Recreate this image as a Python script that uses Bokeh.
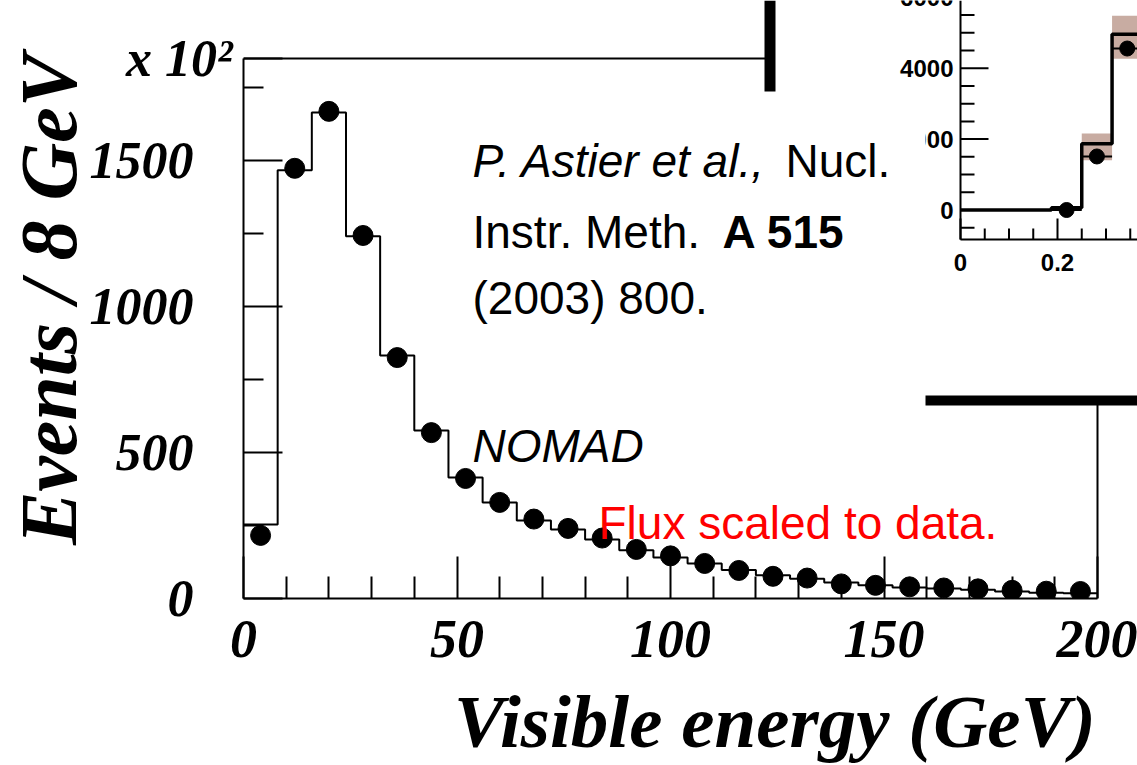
import numpy as np
from bokeh.plotting import figure
from bokeh.models import Range1d, FixedTicker, Label
from bokeh.core.properties import value
from bokeh.embed import file_html
from bokeh.resources import INLINE

# ---------------- main histogram data (visible energy, 8 GeV bins) ----------------
energy_edges = [0, 8, 16, 24, 32, 40, 48, 56, 64, 72, 80, 88, 96, 104, 112, 120,
                128, 136, 144, 152, 160, 168, 176, 184, 192, 200]
energy_centers = [4, 12, 20, 28, 36, 44, 52, 60, 68, 76, 84, 92, 100, 108, 116, 124,
                  132, 140, 148, 156, 164, 172, 180, 188, 196]
flux_mc = [253, 1466, 1664, 1240, 832, 575, 414, 329, 267, 236, 202, 165, 140, 120,
           98, 80, 68, 55, 45, 38, 34, 30, 24, 20, 18]
data_events = [216, 1473, 1668, 1243, 825, 568, 411, 329, 272, 240, 207, 168, 146,
               120, 96, 76, 70, 50, 45, 40, 36, 33, 28, 25, 24]

x_major_ticks = [0, 50, 100, 150, 200]
x_minor_ticks = [10, 20, 30, 40, 60, 70, 80, 90, 110, 120, 130, 140, 160, 170, 180, 190]
y_major_ticks = [0, 500, 1000, 1500]
y_tick_labels = ["0", "500", "1000", "1500"]
y_minor_ticks = [250, 750, 1250, 1750]
Y_TOP = 1849  # top of the original frame (events)
Y_SCALE_LABEL = "x 10\u00b2"

# ---------------- inset data ----------------
inset_edges = [0, 0.0625, 0.125, 0.1875, 0.25, 0.3125, 0.375]
inset_mc = [0, 0, 0, 60, 1870, 4960]
inset_pts_x = [0.21875, 0.28125, 0.34375]
inset_pts_y = [0, 1510, 4555]
inset_box_left = [0.25, 0.3125]
inset_box_right = [0.3125, 0.375]
inset_box_low = [1400, 4270]
inset_box_high = [2160, 5480]
inset_y_major = [0, 2000, 4000, 6000]
inset_y_labels = ["0", "2000", "4000", "6000"]
inset_y_minor = [-500, 500, 1000, 1500, 2500, 3000, 3500, 4500, 5000, 5500]
inset_x_major = [0, 0.2, 0.4]
inset_x_labels = ["0", "0.2", "0.4"]
inset_x_minor = [0.05, 0.1, 0.15, 0.25, 0.3, 0.35]
INSET_FLOOR = -832

# ---------------- geometry ----------------
W, H = 1137, 765
FRAME_LEFT = 243
FRAME_BOTTOM = 598
PX_PER_GEV = (1097 - 243) / 200.0
PX_PER_EVT = (598 - 58) / float(Y_TOP)

def gx(px):
    return (px - FRAME_LEFT) / PX_PER_GEV

def gy(py):
    return (FRAME_BOTTOM - py) / PX_PER_EVT

xr = Range1d(0, gx(W))
yr = Range1d(0, gy(0))

p = figure(width=W, height=H, x_range=xr, y_range=yr, output_backend="svg",
           toolbar_location=None, min_border_left=FRAME_LEFT, min_border_right=0,
           min_border_top=0, min_border_bottom=H - FRAME_BOTTOM)
p.outline_line_color = None
p.xgrid.grid_line_color = None
p.ygrid.grid_line_color = None
p.background_fill_color = "white"
p.border_fill_color = "white"

# inset ranges
I_X0, I_SX = 960.0, 485.0
I_Y0, I_SY = 209.5, 0.03545
p.extra_x_ranges = {"ix": Range1d((FRAME_LEFT - I_X0) / I_SX, (W - I_X0) / I_SX)}
p.extra_y_ranges = {"iy": Range1d(-(FRAME_BOTTOM - I_Y0) / I_SY, I_Y0 / I_SY)}

SERIF = "Liberation Serif"
SANS = "Liberation Sans"
NB = "\u00a0"

xa = p.xaxis[0]
xa.ticker = FixedTicker(ticks=x_major_ticks, minor_ticks=x_minor_ticks)
xa.bounds = (0, 200)
# leading non-breaking spaces push the centred title to end at x = 200
xa.axis_label = NB * 9 + "Visible energy (GeV)"
ya = p.yaxis[0]
ya.ticker = FixedTicker(ticks=y_major_ticks + [Y_TOP], minor_ticks=y_minor_ticks)
ya.bounds = (0, Y_TOP)
ya.axis_label = "Events / 8 GeV"
overrides = {t: lbl + NB * 3 for t, lbl in zip(y_major_ticks, y_tick_labels)}
overrides[Y_TOP] = Y_SCALE_LABEL
ya.major_label_overrides = overrides

for ax in (xa, ya):
    ax.axis_line_color = "black"
    ax.axis_line_width = 2
    ax.major_tick_line_color = "black"
    ax.minor_tick_line_color = "black"
    ax.major_tick_line_width = 2
    ax.minor_tick_line_width = 2
    ax.major_tick_out = 0
    ax.minor_tick_out = 0
    ax.major_label_text_font = SERIF
    ax.major_label_text_font_style = "bold italic"
    ax.major_label_text_color = "black"
    ax.axis_label_text_font = SERIF
    ax.axis_label_text_font_style = "bold italic"
    ax.axis_label_text_color = "black"

xa.major_tick_in = 42
xa.minor_tick_in = 22
xa.major_label_text_font_size = "54px"
xa.major_label_standoff = 22
xa.axis_label_text_font_size = "75px"
xa.axis_label_standoff = 20

ya.major_tick_in = 39
ya.minor_tick_in = 20
ya.major_label_text_font_size = "52px"
ya.major_label_standoff = 11
ya.axis_label_text_font_size = "80px"
ya.axis_label_standoff = -6

# frame top / right edge of the original histogram box
p.line(x=[energy_edges[0], energy_edges[-1], energy_edges[-1]], y=[Y_TOP, Y_TOP, 0],
       line_color="black", line_width=2)

# histogram + data points
p.step(x=energy_edges, y=flux_mc + [flux_mc[-1]], mode="after", line_color="black",
       line_width=2)
p.scatter(x=energy_centers, y=data_events, size=20, color="black", marker="circle")

# ---------------- inset ----------------
p.quad(left=[gx(770)], right=[gx(W)], bottom=[gy(400)], top=[gy(0)],
       fill_color="white", line_color=None)
p.segment(x0=[gx(769.5)], y0=[gy(91)], x1=[gx(769.5)], y1=[gy(0)],
          line_color="black", line_width=11)
p.segment(x0=[gx(925)], y0=[gy(400)], x1=[gx(W)], y1=[gy(400)],
          line_color="black", line_width=10)

IR = dict(x_range_name="ix", y_range_name="iy")
ix_end = p.extra_x_ranges["ix"].end
iy_end = p.extra_y_ranges["iy"].end

p.quad(left=inset_box_left, right=inset_box_right, bottom=inset_box_low,
       top=inset_box_high, fill_color="#c8aca2", line_color=None, **IR)

# inset axes
p.segment(x0=[0, 0], y0=[INSET_FLOOR, INSET_FLOOR], x1=[0, ix_end], y1=[iy_end, INSET_FLOOR],
          line_color="black", line_width=2, **IR)
ymaj_len = 28 / I_SX
ymin_len = 14 / I_SX
p.segment(x0=[0] * len(inset_y_major), y0=inset_y_major,
          x1=[ymaj_len] * len(inset_y_major), y1=inset_y_major,
          line_color="black", line_width=2, **IR)
p.segment(x0=[0] * len(inset_y_minor), y0=inset_y_minor,
          x1=[ymin_len] * len(inset_y_minor), y1=inset_y_minor,
          line_color="black", line_width=2, **IR)
xmaj_len = 21 / I_SY
xmin_len = 11 / I_SY
p.segment(x0=inset_x_major, y0=[INSET_FLOOR] * len(inset_x_major),
          x1=inset_x_major, y1=[INSET_FLOOR + xmaj_len] * len(inset_x_major),
          line_color="black", line_width=2, **IR)
p.segment(x0=inset_x_minor, y0=[INSET_FLOOR] * len(inset_x_minor),
          x1=inset_x_minor, y1=[INSET_FLOOR + xmin_len] * len(inset_x_minor),
          line_color="black", line_width=2, **IR)
p.text(x=[0] * len(inset_y_major), y=inset_y_major, text=inset_y_labels,
       x_offset=-7, text_align="right", text_baseline="middle",
       text_font=value(SANS), text_font_style="bold", text_font_size="24px",
       text_color="black", **IR)
p.text(x=inset_x_major, y=[INSET_FLOOR] * len(inset_x_major), text=inset_x_labels,
       y_offset=23, text_align="center", text_baseline="middle",
       text_font=value(SANS), text_font_style="bold", text_font_size="24px",
       text_color="black", **IR)

# inset histogram and points
p.step(x=inset_edges, y=inset_mc + [inset_mc[-1]], mode="after", line_color="black",
       line_width=3.5, **IR)
half = 0.03125
p.segment(x0=[v - half for v in inset_pts_x], y0=inset_pts_y,
          x1=[v + half for v in inset_pts_x], y1=inset_pts_y,
          line_color="black", line_width=2, **IR)
p.scatter(x=inset_pts_x, y=inset_pts_y, size=15, color="black", marker="circle", **IR)

# white box behind the reference text
p.quad(left=[gx(460)], right=[gx(925)], bottom=[gy(320)], top=[gy(100)],
       fill_color="white", line_color=None)

# ---------------- texts ----------------
def lab(x, y, text, font=SANS, style="normal", size="46px", color="black"):
    p.add_layout(Label(x=x, y=y, text=text, text_font=font, text_font_style=style,
                       text_font_size=size, text_color=color,
                       text_baseline="alphabetic", text_align="left"))

lab(gx(472), gy(160), "P. Astier et al.,", style="italic")
lab(gx(785), gy(160), "Nucl.")
lab(gx(472), gy(231), "Instr. Meth.")
lab(gx(722), gy(231), "A 515", style="bold")
lab(gx(472), gy(297), "(2003) 800.")
lab(gx(472), gy(445), "NOMAD", style="italic")
lab(gx(598), gy(522), "Flux scaled to data.", color="#ff0000")

open("out.html", "w").write(file_html(p, INLINE))
